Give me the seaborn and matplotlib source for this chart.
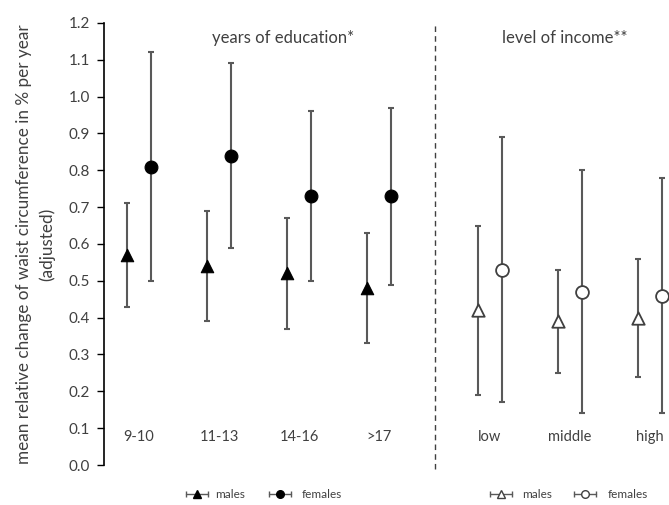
import numpy as np
import pandas as pd
import matplotlib
matplotlib.use("Agg")
import matplotlib.pyplot as plt
from matplotlib.lines import Line2D
import seaborn as sns

sns.set_style("white")
plt.rcParams['font.family'] = ['Lato', 'DejaVu Sans']

edu_cats = ["9-10", "11-13", "14-16", ">17"]
inc_cats = ["low", "middle", "high"]

edu_m = [0.57, 0.54, 0.52, 0.48]
edu_m_lo = [0.43, 0.39, 0.37, 0.33]
edu_m_hi = [0.71, 0.69, 0.67, 0.63]
edu_f = [0.81, 0.84, 0.73, 0.73]
edu_f_lo = [0.50, 0.59, 0.50, 0.49]
edu_f_hi = [1.12, 1.09, 0.96, 0.97]

inc_m = [0.42, 0.39, 0.40]
inc_m_lo = [0.19, 0.25, 0.24]
inc_m_hi = [0.65, 0.53, 0.56]
inc_f = [0.53, 0.47, 0.46]
inc_f_lo = [0.17, 0.14, 0.14]
inc_f_hi = [0.89, 0.80, 0.78]

yticks = [0.0, 0.1, 0.2, 0.3, 0.4, 0.5, 0.6, 0.7, 0.8, 0.9, 1.0, 1.1, 1.2]

edu_pos = np.arange(len(edu_cats), dtype=float)
inc_pos = 4.3875 + np.arange(len(inc_cats), dtype=float)
off = 0.145

W, H = 669, 505
fig = plt.figure(figsize=(6.69, 5.05), dpi=100)
ax = fig.add_axes([0.1555, 0.0792, 0.8445, 0.8753])

txt = "#404040"
ecol = "#595959"

def draw(pos, vals, lo, hi, marker, filled, size):
    vals = np.array(vals); lo = np.array(lo); hi = np.array(hi)
    ax.errorbar(pos, vals, yerr=[vals - lo, hi - vals], fmt="none",
                ecolor=ecol, elinewidth=1.5, capsize=2.5, capthick=1.5, zorder=2)
    df = pd.DataFrame({"x": pos, "y": vals})
    sns.scatterplot(data=df, x="x", y="y", ax=ax, marker=marker, s=size,
                    color="black" if filled else "white",
                    edgecolor="black" if filled else "#404040",
                    linewidth=0.8 if filled else 1.3, zorder=3, legend=False)

draw(edu_pos - off, edu_m, edu_m_lo, edu_m_hi, "^", True, 80)
draw(edu_pos + off, edu_f, edu_f_lo, edu_f_hi, "o", True, 85)
draw(inc_pos - off, inc_m, inc_m_lo, inc_m_hi, "^", False, 80)
draw(inc_pos + off, inc_f, inc_f_lo, inc_f_hi, "o", False, 85)

ax.axvline(3.7, ymin=-0.01, ymax=1.0, color="#404040", ls=(0, (4, 3)), lw=1.0, clip_on=False)

for p, c in zip(edu_pos, edu_cats):
    ax.text(p, 0.075, c, ha="center", va="center", fontsize=10.5, color=txt)
for p, c in zip(inc_pos, inc_cats):
    ax.text(p, 0.075, c, ha="center", va="center", fontsize=10.5, color=txt)

ax.text(1.8, 1.16, "years of education*", ha="center", va="center", fontsize=12, color=txt)
ax.text(5.325, 1.16, "level of income**", ha="center", va="center", fontsize=12, color=txt)

ax.set_xlim(-0.4375, 6.625)
ax.set_ylim(0, 1.2)
ax.set_yticks(yticks)
ax.set_yticklabels([f"{t:.1f}" for t in yticks])
ax.set_xticks([])
ax.set_xlabel("")
ax.set_ylabel("mean relative change of waist circumference in % per year\n(adjusted)",
              fontsize=12.3, color=txt, labelpad=10, linespacing=1.5)
ax.tick_params(axis="y", direction="out", length=5, width=1, color="black",
               labelsize=11, labelcolor=txt, left=True, pad=5)
for s in ["top", "right", "bottom"]:
    ax.spines[s].set_visible(False)
ax.spines["left"].set_color("black")
ax.spines["left"].set_linewidth(1.2)

# legends (drawn as legend keys in figure pixel positions)
def leg_item(xc, yc, marker, face, edge, label, xt):
    fx = lambda v: v / W
    fy = 1 - yc / H
    half = 11
    fig.add_artist(Line2D([fx(xc - half), fx(xc + half)], [fy, fy], color=ecol, lw=1.0,
                          transform=fig.transFigure))
    fig.add_artist(Line2D([fx(xc - half), fx(xc + half)], [fy, fy], ls="none", marker="|",
                          markersize=5, mew=1.0, color=ecol, transform=fig.transFigure))
    fig.add_artist(Line2D([fx(xc)], [fy], ls="none", marker=marker, markersize=5.5,
                          mfc=face, mec=edge, mew=1.0, transform=fig.transFigure))
    fig.text(fx(xt), fy, label, ha="left", va="center", fontsize=8.5, color=txt)

leg_item(197, 494, "^", "black", "black", "males", 215)
leg_item(280, 494, "o", "black", "black", "females", 302)
leg_item(501, 494, "^", "white", "#404040", "males", 522)
leg_item(585, 494, "o", "white", "#404040", "females", 608)

fig.savefig("out.png", dpi=100)
